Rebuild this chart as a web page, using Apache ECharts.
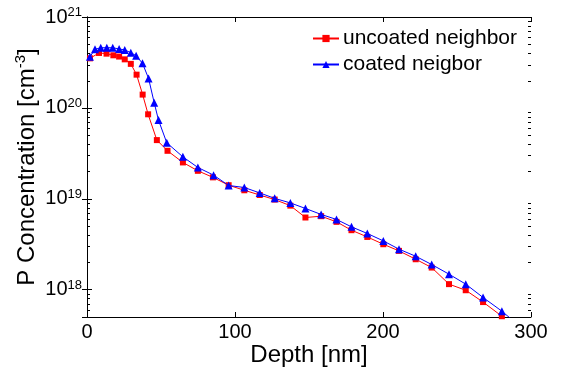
<!DOCTYPE html>
<html><head><meta charset="utf-8">
<script src="https://cdn.jsdelivr.net/npm/echarts@6/dist/echarts.min.js"></script>
<style>html,body{margin:0;padding:0;background:#fff}#c{width:561px;height:374px}</style>
</head><body><div id="c"></div>
<script>
// Data
const uncoatedDepth = [2.0, 8.1, 13.2, 17.8, 21.7, 25.5, 29.6, 33.5, 37.6, 41.3, 47.2, 54.4, 64.8, 74.9, 85.1, 95.7, 106.3, 116.7, 126.8, 137.4, 147.6, 158.2, 168.6, 178.7, 189.4, 200.2, 210.8, 222.1, 232.9, 244.6, 255.9, 267.6, 280.3, 290.5];
const uncoatedConc = [3.51e20, 4.02e20, 3.95e20, 3.79e20, 3.67e20, 3.42e20, 3.05e20, 2.32e20, 1.40e20, 8.5e19, 4.42e19, 3.37e19, 2.51e19, 2.03e19, 1.72e19, 1.41e19, 1.24e19, 1.10e19, 9.8e18, 8.4e18, 6.22e18, 6.43e18, 5.57e18, 4.51e18, 3.80e18, 3.16e18, 2.67e18, 2.16e18, 1.75e18, 1.15e18, 9.85e17, 7.3e17, 5.1e17, 3.8e17];
const coatedDepth = [2.0, 5.4, 9.3, 13.4, 17.4, 21.7, 25.5, 29.6, 33.2, 37.5, 41.6, 45.4, 48.3, 53.9, 64.8, 74.9, 85.5, 95.7, 106.3, 116.7, 126.8, 137.4, 147.6, 158.2, 168.6, 178.7, 189.4, 200.2, 210.8, 222.1, 232.9, 244.6, 255.9, 267.6, 280.3, 290.5];
const coatedConc = [3.65e20, 4.41e20, 4.59e20, 4.59e20, 4.59e20, 4.45e20, 4.34e20, 4.05e20, 3.75e20, 3.09e20, 2.11e20, 1.14e20, 7.35e19, 4.13e19, 2.89e19, 2.21e19, 1.82e19, 1.40e19, 1.33e19, 1.16e19, 1.01e19, 9.0e18, 7.82e18, 6.72e18, 5.92e18, 4.91e18, 4.15e18, 3.44e18, 2.79e18, 2.33e18, 1.89e18, 1.48e18, 1.15e18, 8.2e17, 5.8e17, 4.2e17];
const seriesNames = ['uncoated neighbor', 'coated neigbor'];
const xMin = 0, xMax = 300, xInterval = 100;
const yMin = 5e17, yMax = 1e21;
const minorMultipliers = [2, 3, 4, 5, 6, 7, 8, 9];
const minorDecades = [17, 18, 19, 20];

const FONT = 'Liberation Sans, Arial, sans-serif';
const chart = echarts.init(document.getElementById('c'), null, {renderer: 'canvas'});

function zip(a, b) { return a.map((v, i) => [v, b[i]]); }
function decadeLabel(v) {
  const e = Math.log10(v), r = Math.round(e);
  if (Math.abs(e - r) > 1e-6) return '';
  return '{b|10}{s|' + r + '}';
}
const axisLine = {show: true, lineStyle: {color: '#000', width: 1}};
const tickIn = {show: true, inside: true, length: 5, lineStyle: {color: '#000', width: 1}};

chart.setOption({
  animation: false,
  backgroundColor: '#fff',
  grid: {left: 87, right: 30, top: 17, bottom: 57, containLabel: false},
  legend: {
    data: seriesNames,
    orient: 'vertical',
    left: 312, top: 28, padding: 0,
    itemWidth: 26, itemHeight: 9, itemGap: 5,
    textStyle: {fontSize: 21, fontFamily: FONT, color: '#000', padding: [0, 0, 0, -1]},
    backgroundColor: 'transparent'
  },
  xAxis: [{
    type: 'value', min: xMin, max: xMax, interval: xInterval,
    name: 'Depth [nm]', nameLocation: 'middle', nameGap: 26, nameMoveOverlap: false,
    nameTextStyle: {fontSize: 24, fontFamily: FONT, color: '#000'},
    axisLine: axisLine, axisTick: tickIn, splitLine: {show: false},
    axisLabel: {fontSize: 20, fontFamily: FONT, color: '#000', margin: 5}
  }, {
    type: 'value', position: 'top', min: xMin, max: xMax, interval: xInterval,
    axisLine: axisLine, axisTick: tickIn, splitLine: {show: false}, axisLabel: {show: false}
  }],
  yAxis: [{
    type: 'log', logBase: 10, min: yMin, max: yMax,
    name: 'P Concentration [cm{s|-3}]', nameLocation: 'middle', nameGap: 46, nameMoveOverlap: false,
    nameTextStyle: {fontSize: 24, fontFamily: FONT, color: '#000', lineHeight: 28,
      rich: {s: {fontSize: 15, fontFamily: FONT, color: '#000', verticalAlign: 'top', lineHeight: 15}}},
    axisLine: axisLine, axisTick: tickIn, splitLine: {show: false}, minorTick: {show: false},
    axisLabel: {
      formatter: decadeLabel, margin: 5,
      rich: {
        b: {fontSize: 20, fontFamily: FONT, color: '#000', lineHeight: 22},
        s: {fontSize: 13, fontFamily: FONT, color: '#000', verticalAlign: 'top', lineHeight: 12}
      }
    }
  }, {
    type: 'log', logBase: 10, min: yMin, max: yMax, position: 'right',
    axisLine: axisLine, axisTick: tickIn, splitLine: {show: false}, axisLabel: {show: false}
  }],
  series: [{
    name: seriesNames[0], type: 'line', data: zip(uncoatedDepth, uncoatedConc),
    symbol: 'rect', symbolSize: 6, showAllSymbol: true, clip: true,
    lineStyle: {color: '#ff0000', width: 1}, itemStyle: {color: '#ff0000'}, z: 2
  }, {
    name: seriesNames[1], type: 'line', data: zip(coatedDepth, coatedConc),
    symbol: 'triangle', symbolSize: 8, showAllSymbol: true, clip: true,
    lineStyle: {color: '#0000ff', width: 1}, itemStyle: {color: '#0000ff'}, z: 3
  }]
});

// minor log ticks on left and right edges, placed through the axis scale
const xl = chart.convertToPixel({xAxisIndex: 0}, xMin);
const xr = chart.convertToPixel({xAxisIndex: 0}, xMax);
const g = [];
minorDecades.forEach(d => minorMultipliers.forEach(m => {
  const v = m * Math.pow(10, d);
  if (v <= yMin || v >= yMax) return;
  const y = Math.round(chart.convertToPixel({yAxisIndex: 0}, v)) + 0.5;
  g.push({type: 'line', shape: {x1: xl, y1: y, x2: xl + 3, y2: y}, style: {stroke: '#000', lineWidth: 1}, silent: true, z: 10});
  g.push({type: 'line', shape: {x1: xr - 3, y1: y, x2: xr, y2: y}, style: {stroke: '#000', lineWidth: 1}, silent: true, z: 10});
}));
chart.setOption({graphic: g});
</script>
</body></html>
